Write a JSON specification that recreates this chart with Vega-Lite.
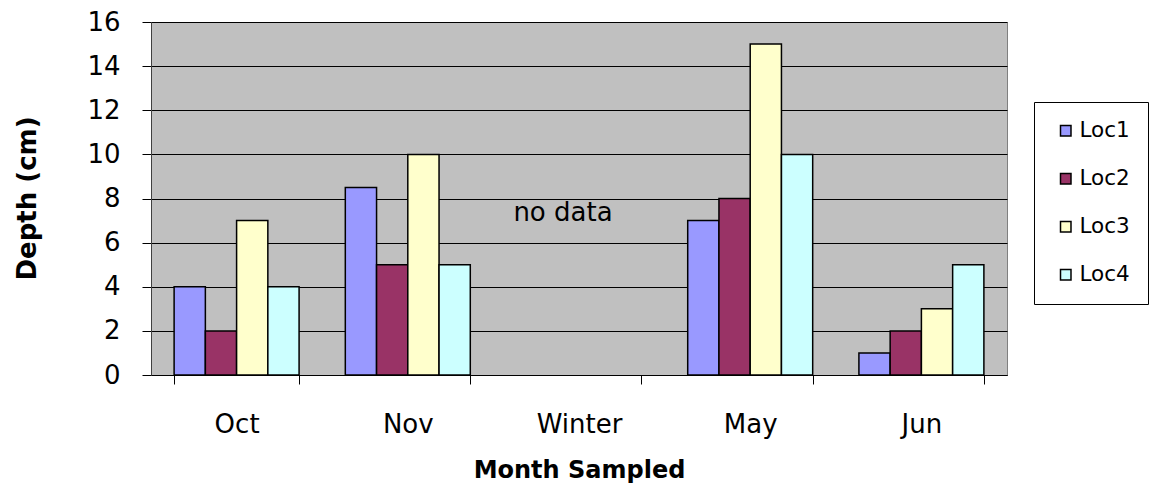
{
  "$schema": "https://vega.github.io/schema/vega-lite/v6.json",
  "width": 856,
  "height": 353,
  "autosize": {"type": "none"},
  "padding": {"left": 151, "top": 22, "right": 152, "bottom": 114},
  "background": "white",
  "config": {
    "view": {"fill": "#C0C0C0", "stroke": "#808080", "strokeWidth": 1},
    "font": "DejaVu Sans"
  },
  "encoding": {
    "x": {
      "field": "Month",
      "type": "nominal",
      "sort": null,
      "scale": {"domain": ["Oct", "Nov", "Winter", "May", "Jun"], "paddingInner": 0.27, "paddingOuter": 0.135},
      "axis": {
        "title": "Month Sampled",
        "titleFont": "DejaVu Sans",
        "titleFontSize": 24,
        "titleFontWeight": "bold",
        "titleColor": "black",
        "titleBaseline": "alphabetic",
        "titleY": 102,
        "labelFont": "DejaVu Sans",
        "labelFontSize": 26,
        "labelColor": "black",
        "labelAngle": 0,
        "labelBaseline": "alphabetic",
        "labelPadding": 48,
        "tickBand": "extent",
        "tickSize": 9,
        "tickColor": "black",
        "domainColor": "black",
        "grid": false
      }
    },
    "y": {
      "field": "Depth",
      "type": "quantitative",
      "scale": {"domain": [0, 16], "nice": false},
      "axis": {
        "title": "Depth (cm)",
        "titleFont": "DejaVu Sans",
        "titleFontSize": 26,
        "titleFontWeight": "bold",
        "titleColor": "black",
        "titleAngle": -90,
        "titleBaseline": "middle",
        "titleAlign": "center",
        "titleX": -124,
        "titleY": 176,
        "labelFont": "DejaVu Sans",
        "labelFontSize": 26,
        "labelColor": "black",
        "labelPadding": 22,
        "values": [0, 2, 4, 6, 8, 10, 12, 14, 16],
        "tickSize": 9,
        "tickColor": "black",
        "domainColor": "#404040",
        "grid": true,
        "gridColor": "black",
        "gridWidth": 1
      }
    }
  },
  "layer": [
    {
      "data": {
        "values": [
          {"Month": "Oct", "Location": "Loc1", "Depth": 4},
          {"Month": "Oct", "Location": "Loc2", "Depth": 2},
          {"Month": "Oct", "Location": "Loc3", "Depth": 7},
          {"Month": "Oct", "Location": "Loc4", "Depth": 4},
          {"Month": "Nov", "Location": "Loc1", "Depth": 8.5},
          {"Month": "Nov", "Location": "Loc2", "Depth": 5},
          {"Month": "Nov", "Location": "Loc3", "Depth": 10},
          {"Month": "Nov", "Location": "Loc4", "Depth": 5},
          {"Month": "May", "Location": "Loc1", "Depth": 7},
          {"Month": "May", "Location": "Loc2", "Depth": 8},
          {"Month": "May", "Location": "Loc3", "Depth": 15},
          {"Month": "May", "Location": "Loc4", "Depth": 10},
          {"Month": "Jun", "Location": "Loc1", "Depth": 1},
          {"Month": "Jun", "Location": "Loc2", "Depth": 2},
          {"Month": "Jun", "Location": "Loc3", "Depth": 3},
          {"Month": "Jun", "Location": "Loc4", "Depth": 5}
        ]
      },
      "mark": {"type": "bar", "stroke": "black", "strokeWidth": 1.5},
      "encoding": {
        "xOffset": {"field": "Location", "type": "nominal", "scale": {"paddingInner": 0, "paddingOuter": 0}},
        "color": {
          "field": "Location",
          "type": "nominal",
          "scale": {"domain": ["Loc1", "Loc2", "Loc3", "Loc4"], "range": ["#9999FF", "#993366", "#FFFFCC", "#CCFFFF"]},
          "legend": {
            "title": null,
            "orient": "none",
            "legendX": 883,
            "legendY": 80,
            "padding": 18,
            "symbolOffset": 3,
            "strokeColor": "black",
            "fillColor": "white",
            "symbolType": "square",
            "symbolSize": 110,
            "symbolStrokeColor": "black",
            "symbolStrokeWidth": 1.5,
            "labelFont": "DejaVu Sans",
            "labelFontSize": 21.5,
            "labelColor": "black",
            "labelOffset": 3,
            "rowPadding": 25
          }
        }
      }
    },
    {
      "data": {"values": [{"Month": "Winter", "Depth": 7, "label": "no data"}]},
      "mark": {"type": "text", "fontSize": 26, "font": "DejaVu Sans", "color": "black", "baseline": "alphabetic", "dx": -16},
      "encoding": {
        "text": {"field": "label", "type": "nominal"}
      }
    }
  ]
}
